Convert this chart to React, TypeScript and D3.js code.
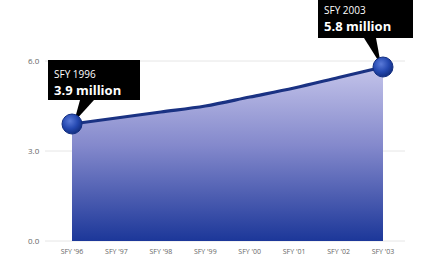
import React from "react";
import * as d3 from "d3";

const categories = ["SFY '96", "SFY '97", "SFY '98", "SFY '99", "SFY '00", "SFY '01", "SFY '02", "SFY '03"];
const values = [3.9, 4.1, 4.3, 4.5, 4.8, 5.1, 5.45, 5.8];
const yTicks = [0, 3, 6];
const calloutYears = ["SFY 1996", "SFY 2003"];
const calloutValues = ["3.9 million", "5.8 million"];

export default function App() {
  const W = 426, H = 258;
  const x = d3.scalePoint<string>().domain(categories).range([72, 383]);
  const y = d3.scaleLinear().domain([0, 6]).range([241, 61]);
  const data = categories.map((c, i) => ({ c, v: values[i] }));
  const line = d3.line<any>().x(d => x(d.c)!).y(d => y(d.v)).curve(d3.curveMonotoneX);
  const area = d3.area<any>().x(d => x(d.c)!).y0(y(0)).y1(d => y(d.v)).curve(d3.curveMonotoneX);
  const first = data[0], last = data[data.length - 1];
  const fx = x(first.c)!, fy = y(first.v);
  const lx = x(last.c)!, ly = y(last.v);
  const font = "'Open Sans', 'DejaVu Sans', sans-serif";
  return (
    <svg width={W} height={H} style={{ position: "absolute", left: 0, top: 0, background: "#fff" }}>
      <defs>
        <linearGradient id="ag" x1="0" y1="0" x2="0" y2="1">
          <stop offset="0" stopColor="#c4c4ea" />
          <stop offset="0.45" stopColor="#8489cc" />
          <stop offset="1" stopColor="#1c3799" />
        </linearGradient>
        <radialGradient id="cg" cx="0.4" cy="0.35" r="0.65">
          <stop offset="0" stopColor="#5a7ad8" />
          <stop offset="0.6" stopColor="#2448b0" />
          <stop offset="1" stopColor="#132f82" />
        </radialGradient>
      </defs>
      {yTicks.map(t => (
        <g key={t}>
          <line x1={45} x2={405} y1={y(t)} y2={y(t)} stroke="#e6e6e6" strokeWidth={1} />
          <text x={28} y={y(t) + 3} fontSize={8} fill="#666" fontFamily={font}>{t.toFixed(1)}</text>
        </g>
      ))}
      <path d={area(data)!} fill="url(#ag)" />
      <path d={line(data)!} fill="none" stroke="#1a3283" strokeWidth={3.2} />
      {categories.map(c => (
        <text key={c} x={x(c)!} y={254} fontSize={7} fill="#666" textAnchor="middle" fontFamily={font}>{c}</text>
      ))}
      <path d={`M${80},${100} L${94},${100} L${fx + 2},${fy - 2} Z`} fill="#000" />
      <rect x={48} y={60} width={92} height={40} fill="#000" />
      <text x={54} y={78} fontSize={10} fill="#fff" fontFamily={font}>{calloutYears[0]}</text>
      <text x={54} y={95} fontSize={13} fontWeight="bold" fill="#fff" fontFamily={font}>{calloutValues[0]}</text>
      <path d={`M${364},${38} L${376},${38} L${lx - 2},${ly - 2} Z`} fill="#000" />
      <rect x={318} y={-2} width={95} height={40} fill="#000" />
      <text x={324} y={14} fontSize={10} fill="#fff" fontFamily={font}>{calloutYears[1]}</text>
      <text x={324} y={31} fontSize={13} fontWeight="bold" fill="#fff" fontFamily={font}>{calloutValues[1]}</text>
      {[first, last].map(d => (
        <circle key={d.c} cx={x(d.c)!} cy={y(d.v)} r={10} fill="url(#cg)" stroke="#132f82" strokeWidth={1} />
      ))}
    </svg>
  );
}
